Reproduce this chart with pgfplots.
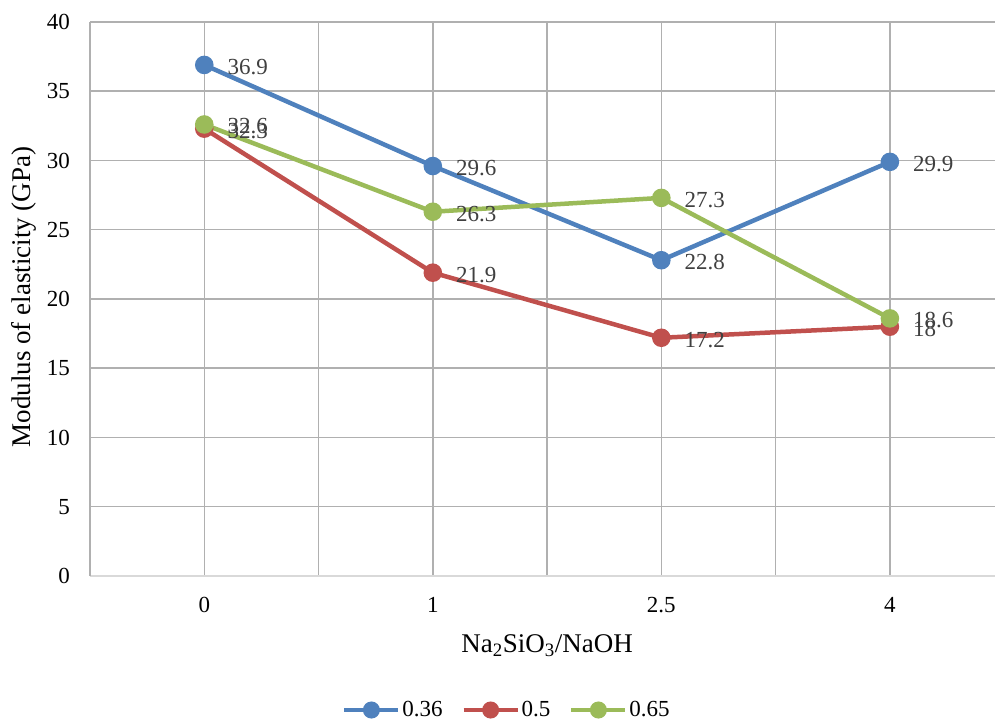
\documentclass[border=0pt]{standalone}
\usepackage{fontspec}
\setmainfont{Liberation Serif}
\usepackage{pgfplots}
\pgfplotsset{compat=1.18}

\definecolor{sBlue}{HTML}{4F81BD}
\definecolor{sRed}{HTML}{C0504D}
\definecolor{sGreen}{HTML}{9BBB59}
\definecolor{gridgray}{HTML}{B0B0B0}
\definecolor{axisgray}{HTML}{D9D9D9}
\definecolor{labelgray}{HTML}{404040}

\newcommand{\chartfont}{\fontsize{23}{27}\selectfont}
\newcommand{\titlefont}{\fontsize{27}{32}\selectfont}

\begin{document}
\begin{tikzpicture}
\useasboundingbox (0,0) rectangle (995pt,722pt);
\begin{axis}[
  at={(90pt,146pt)}, anchor=south west,
  scale only axis, width=905pt, height=554pt,
  xmin=-0.5, xmax=3.46, ymin=0, ymax=40,
  xtick={0,1,2,3}, xticklabels={0,1,2.5,4},
  minor xtick={-0.5,0.5,1.5,2.5},
  ytick={0,5,...,40},
  grid=both,
  major grid style={draw=gridgray, line width=1.5pt},
  minor grid style={draw=gridgray, line width=1.5pt},
  axis x line*=bottom, axis y line*=left,
  x axis line style={draw=axisgray, line width=2pt, -},
  y axis line style={draw=gridgray, line width=1.5pt, -},
  tick style={draw=none},
  /pgf/number format/assume math mode=true,
  every tick label/.append style={font=\chartfont, text=black},
  xticklabel style={anchor=center, inner sep=0pt, yshift=-29pt},
  yticklabel style={anchor=east, inner sep=0pt, xshift=-20pt},
  xlabel={Na\textsubscript{2}SiO\textsubscript{3}/NaOH},
  ylabel={Modulus of elasticity (GPa)},
  xlabel style={at={(axis cs:1.5,0)}, anchor=center, yshift=-70pt, font=\titlefont},
  ylabel style={at={(axis description cs:-0.0729,0.5035)}, anchor=center, rotate=0, font=\titlefont},
  every axis plot/.append style={line width=4.5pt, mark=*, mark size=7pt},
  nodes near coords,
  every node near coord/.append style={anchor=west, xshift=21pt, yshift=-2pt,
    inner sep=0pt, font=\chartfont, text=labelgray},
  legend columns=3,
  legend style={at={(0.4608,-0.2419)}, anchor=center, draw=none, fill=none,
    font=\chartfont, nodes={inner sep=2pt},
    /tikz/every even column/.append style={column sep=17pt}},
  legend image code/.code={\draw[mark repeat=2, mark phase=2, line width=4pt, mark size=6.5pt, #1]
    plot coordinates {(0pt,0pt) (27pt,0pt) (54pt,0pt)};},
]
\addplot[color=sBlue, mark options={fill=sBlue, draw=sBlue}] coordinates {(0,36.9) (1,29.6) (2,22.8) (3,29.9)};
\addlegendentry{0.36}
\addplot[color=sRed, mark options={fill=sRed, draw=sRed}] coordinates {(0,32.3) (1,21.9) (2,17.2) (3,18)};
\addlegendentry{0.5}
\addplot[color=sGreen, mark options={fill=sGreen, draw=sGreen}] coordinates {(0,32.6) (1,26.3) (2,27.3) (3,18.6)};
\addlegendentry{0.65}
\end{axis}
\end{tikzpicture}
\end{document}
